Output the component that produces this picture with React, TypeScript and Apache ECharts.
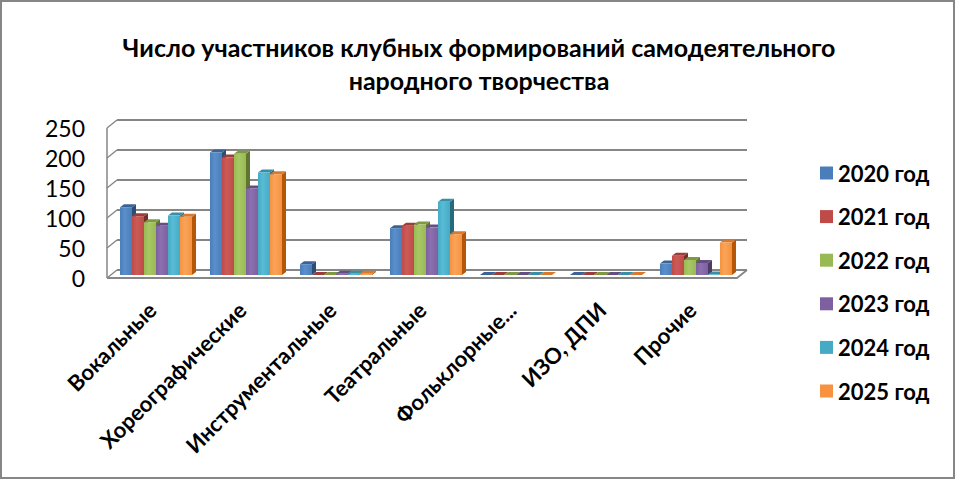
import React, { useEffect, useRef } from "react";
import * as echarts from "echarts";

const categories = ["Вокальные", "Хореографические", "Инструментальные", "Театральные", "Фольклорные...", "ИЗО, ДПИ", "Прочие"];
const seriesNames = ["2020 год", "2021 год", "2022 год", "2023 год", "2024 год", "2025 год"];
const v2020 = [113, 204, 18, 78, 0, 0, 19];
const v2021 = [98, 196, 0, 82, 0, 0, 32];
const v2022 = [88, 202, 0, 84, 0, 0, 25];
const v2023 = [82, 144, 2, 79, 0, 0, 20];
const v2024 = [99, 171, 2, 122, 0, 0, 1];
const v2025 = [97, 168, 2, 68, 0, 0, 54];
const seriesValues = [v2020, v2021, v2022, v2023, v2024, v2025];
const yTicks = [0, 50, 100, 150, 200, 250];
const titleLines = ["Число участников клубных формирований самодеятельного", "народного творчества"];

const FRONT_COLORS = ["#4A7EBB", "#BE4B48", "#98B954", "#7D60A0", "#46AAC5", "#F69240"];
const LIGHT_COLORS = ["#5A8FCC", "#CC5B58", "#A8C865", "#8D70B0", "#58BCD6", "#F9A458"];
const SIDE_COLORS = ["#2C4D75", "#772C2A", "#5F7530", "#4D3B62", "#276A7C", "#B65708"];
const TOP_COLORS = ["#3A6496", "#9B3D3A", "#7D9A43", "#664E84", "#3A8EA6", "#D7792F"];

const FONT = "Lato, 'Open Sans', 'DejaVu Sans', sans-serif";
const FRONT = { left: 107, top: 128, right: 737, bottom: 278 };
const D = { x: 10, y: -8 };
const SHIFT = { x: 4, y: -3 };
const DEPTH = { x: 4, y: -3 };
const GROUP_RATIO = 0.8;
const AXIS_COLOR = "#868686";

export default function App() {
  const ref = useRef<HTMLDivElement>(null);
  useEffect(() => {
    document.body.style.margin = "0";
    const chart = echarts.init(ref.current!, undefined, { renderer: "svg" });
    const N = seriesNames.length;
    const frontH = FRONT.bottom - FRONT.top;

    const decorations: any[] = [];
    decorations.push({
      type: "rect",
      shape: { x: 1, y: 1, width: 953, height: 477 },
      style: { fill: "none", stroke: AXIS_COLOR, lineWidth: 2 },
      z: 0,
    });
    titleLines.forEach((line, i) => {
      decorations.push({
        type: "text",
        x: 479,
        y: 47 + i * 33,
        style: {
          text: line,
          fontFamily: FONT,
          fontSize: 25,
          fontWeight: "bold",
          fill: "#000",
          align: "center",
          verticalAlign: "middle",
        },
        z: 1,
      });
    });
    // left wall
    decorations.push({
      type: "line",
      shape: { x1: FRONT.left, y1: FRONT.top, x2: FRONT.left, y2: FRONT.bottom },
      style: { stroke: AXIS_COLOR, lineWidth: 1.5 },
      z: 1,
    });
    yTicks.forEach((t) => {
      const y = FRONT.bottom - (t / yTicks[yTicks.length - 1]) * frontH;
      decorations.push({
        type: "line",
        shape: { x1: FRONT.left, y1: y, x2: FRONT.left + D.x, y2: y + D.y },
        style: { stroke: AXIS_COLOR, lineWidth: 1.5 },
        z: 1,
      });
    });
    // floor
    decorations.push({
      type: "polyline",
      shape: {
        points: [
          [FRONT.left, FRONT.bottom],
          [FRONT.right, FRONT.bottom],
          [FRONT.right + D.x, FRONT.bottom + D.y],
        ],
      },
      style: { stroke: AXIS_COLOR, fill: "none", lineWidth: 1.8 },
      z: 1,
    });

    const series = seriesNames.map((name, si) => ({
      type: "custom",
      name,
      xAxisIndex: 0,
      yAxisIndex: 0,
      itemStyle: { color: FRONT_COLORS[si] },
      encode: { x: 0, y: 1 },
      data: seriesValues[si].map((v, i) => [i, v]),
      renderItem: (params: any, api: any) => {
        const cat = api.value(0);
        const v = api.value(1);
        const p0 = api.coord([cat, 0]);
        const p1 = api.coord([cat, v]);
        const band = api.size([1, 0])[0];
        const gw = band * GROUP_RATIO;
        const bw = gw / N;
        const x = p0[0] - gw / 2 + si * bw + SHIFT.x;
        const yb = p0[1] + SHIFT.y;
        const yt = p1[1] + SHIFT.y;
        const dx = DEPTH.x;
        const dy = DEPTH.y;
        return {
          type: "group",
          children: [
            {
              type: "polygon",
              shape: { points: [[x + bw, yb], [x + bw + dx, yb + dy], [x + bw + dx, yt + dy], [x + bw, yt]] },
              style: { fill: SIDE_COLORS[si] },
            },
            {
              type: "polygon",
              shape: { points: [[x, yt], [x + dx, yt + dy], [x + bw + dx, yt + dy], [x + bw, yt]] },
              style: { fill: TOP_COLORS[si] },
            },
            {
              type: "rect",
              shape: { x, y: yt, width: bw, height: Math.max(yb - yt, 0) },
              style: {
                fill: new echarts.graphic.LinearGradient(0, 0, 1, 0, [
                  { offset: 0, color: FRONT_COLORS[si] },
                  { offset: 0.4, color: LIGHT_COLORS[si] },
                  { offset: 1, color: FRONT_COLORS[si] },
                ]),
              },
            },
          ],
        };
      },
    }));

    chart.setOption({
      animation: false,
      backgroundColor: "#ffffff",
      textStyle: { fontFamily: FONT },
      legend: {
        orient: "vertical",
        left: 815,
        top: 157,
        itemWidth: 13,
        itemHeight: 13,
        itemGap: 21.6,
        icon: "rect",
        data: seriesNames,
        textStyle: { fontFamily: FONT, fontSize: 22, fontWeight: "bold", color: "#000", lineHeight: 22 },
      },
      grid: [
        { left: FRONT.left, top: FRONT.top, width: FRONT.right - FRONT.left, height: frontH },
        { left: FRONT.left + D.x, top: FRONT.top + D.y, width: FRONT.right - FRONT.left, height: frontH },
      ],
      xAxis: [
        {
          type: "category",
          gridIndex: 0,
          data: categories,
          axisLine: { show: false },
          axisTick: { show: false },
          axisLabel: {
            interval: 0,
            rotate: 45,
            margin: 28,
            fontFamily: FONT,
            fontSize: 22,
            fontWeight: "bold",
            color: "#000",
          },
        },
        { type: "category", gridIndex: 1, data: categories, show: false },
      ],
      yAxis: [
        {
          type: "value",
          gridIndex: 0,
          min: 0,
          max: 250,
          interval: 50,
          axisLine: { show: false },
          axisTick: { show: false },
          splitLine: { show: false },
          axisLabel: { margin: 22, fontFamily: FONT, fontSize: 23, color: "#000" },
        },
        {
          type: "value",
          gridIndex: 1,
          min: 0,
          max: 250,
          interval: 50,
          axisLine: { show: false },
          axisTick: { show: false },
          axisLabel: { show: false },
          splitLine: { show: true, lineStyle: { color: AXIS_COLOR, width: 1.8 } },
        },
      ],
      graphic: decorations,
      series,
    });
    return () => chart.dispose();
  }, []);
  return <div ref={ref} style={{ position: "fixed", left: 0, top: 0, width: 960, height: 480 }} />;
}
